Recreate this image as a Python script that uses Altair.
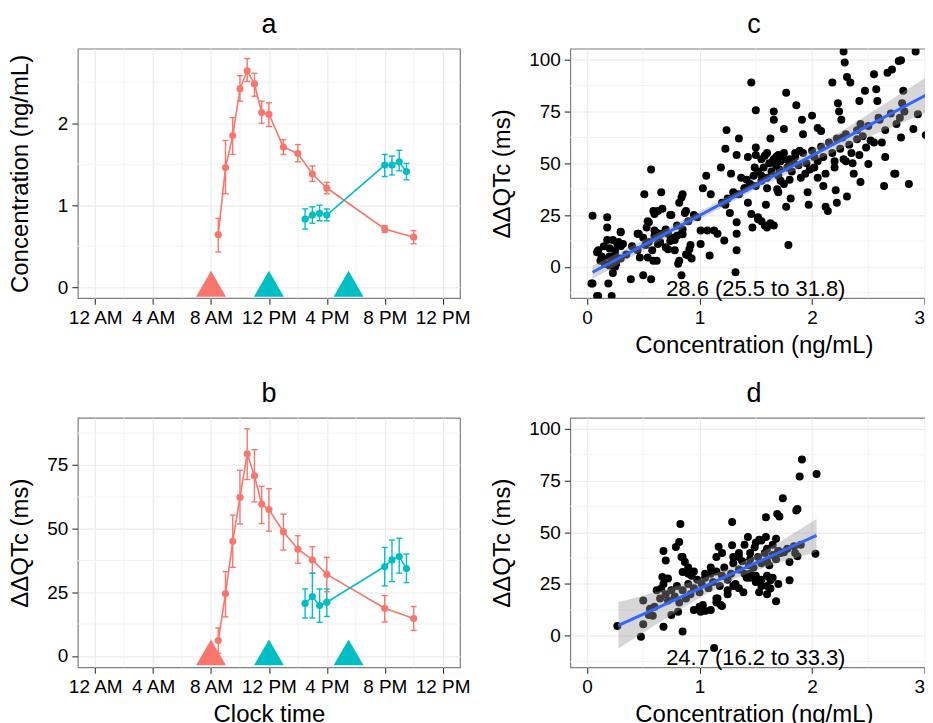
import json
import altair as alt
import pandas as pd

FONT = "Liberation Sans"
SALMON, TEAL = "#F8766D", "#00BFC4"
MINOR = "#F3F3F3"

# ---------------- time-course data (hours after midnight) ----------------
sal_h = [8.5, 9.0, 9.5, 10.0, 10.5, 11.0, 11.5, 12.0, 13.0, 14.0, 15.0, 16.0, 20.0, 22.0]
sal_conc = [0.64, 1.46, 1.85, 2.42, 2.64, 2.48, 2.13, 2.11, 1.71, 1.63, 1.38, 1.21, 0.71, 0.61]
sal_conc_lo = [0.43, 1.14, 1.62, 2.27, 2.51, 2.33, 2.00, 1.96, 1.62, 1.53, 1.29, 1.14, 0.67, 0.53]
sal_conc_hi = [0.84, 1.79, 2.07, 2.58, 2.79, 2.61, 2.27, 2.25, 1.80, 1.74, 1.48, 1.28, 0.75, 0.69]
teal_h = [14.5, 15.0, 15.5, 16.0, 20.0, 20.5, 21.0, 21.5]
teal_conc = [0.83, 0.88, 0.90, 0.88, 1.49, 1.49, 1.53, 1.41]
teal_conc_lo = [0.71, 0.78, 0.81, 0.81, 1.35, 1.37, 1.42, 1.31]
teal_conc_hi = [0.955, 0.98, 1.00, 0.955, 1.62, 1.60, 1.67, 1.51]

sal_qt = [6.0, 24.5, 45.0, 62.3, 79.4, 70.8, 59.6, 57.5, 48.8, 41.9, 37.7, 32.0, 18.7, 14.7]
sal_qt_lo = [1.0, 15.3, 34.8, 51.8, 69.3, 60.5, 52.0, 49.0, 41.6, 36.4, 32.5, 25.2, 13.3, 10.0]
sal_qt_hi = [11.0, 33.1, 55.3, 72.9, 89.2, 81.0, 66.6, 65.7, 55.7, 47.2, 42.9, 38.7, 23.7, 19.4]
teal_qt = [20.6, 23.3, 19.8, 21.1, 35.1, 37.7, 39.0, 34.3]
teal_qt_lo = [14.9, 14.9, 13.2, 15.5, 27.5, 29.2, 32.5, 28.8]
teal_qt_hi = [26.3, 32.5, 26.3, 26.3, 42.6, 45.5, 46.2, 40.0]

dose_h = [8.0, 12.0, 17.5]
dose_grp = ["first", "second", "second"]

time_ticks = [0, 4, 8, 12, 16, 20, 24]
time_labels = ["12 AM", "4 AM", "8 AM", "12 PM", "4 PM", "8 PM", "12 PM"]
time_minor = [2, 6, 10, 14, 18, 22]

# ---------------- concentration / ddQTc scatter data ----------------
c_points = [
    (0.05, 24.7), (0.05, -8), (0.1, -14), (0.1, 8), (0.13, 5), (0.18, 24), (0.18, 19), (0.18, 13),
    (0.19, -8), (0.22, -14), (0.2, 9), (0.23, 13), (0.25, 6), (0.26, 1.5), (0.27, 11), (0.3, 17),
    (0.32, 11), (0.25, 0), (0.16, 1.5), (0.22, 4), (0.23, -3), (0.09, 7), (0.14, 4), (0.2, 0.6),
    (0.3, 10), (0.3, 16.7), (0.04, -8), (0.09, -14),
    (0.39, -6), (0.45, 16), (0.5, -4), (0.51, 35), (0.53, 19), (0.54, 22), (0.57, 47), (0.57, -6),
    (0.59, 3), (0.6, 25.5), (0.61, 16), (0.63, 27), (0.66, 36), (0.67, 28), (0.7, 9.5), (0.72, 16),
    (0.75, 25), (0.78, 13), (0.81, 1.5), (0.84, 33.5), (0.85, 35), (0.84, -4), (0.87, 26), (0.88, 6),
    (0.91, 8.5), (0.93, 4), (0.47, 4.5), (0.54, 4.5), (0.63, 11), (0.72, 8.5), (0.78, 8), (0.84, 16),
    (0.66, 16), (0.6, 17.5), (0.46, 16), (0.55, 21.5), (0.59, 27), (0.74, 25), (0.62, 16.5),
    (0.74, 12.5), (0.8, 15), (0.52, 10.5), (0.58, 8), (0.62, 3), (0.82, 3), (0.9, 5.5), (0.92, 10.6),
    (0.85, 15.7), (0.88, 27), (0.82, 31),
    (0.5, 14), (0.55, 12), (0.6, 15), (0.65, 12), (0.7, 18), (0.75, 14), (0.8, 20), (0.85, 18),
    (0.9, 22), (0.95, 25), (0.45, 8), (0.4, 10), (0.35, 6), (0.3, 4), (0.28, 12), (0.25, 8),
    (0.22, 2), (0.2, 5), (0.15, 10), (0.12, 3),
    (0.98, 24), (1.01, 17.5), (1.01, 11), (1.03, 38), (1.06, 44), (1.07, 17.5), (1.09, 5.5),
    (1.1, 35), (1.13, 17.5), (1.16, 16), (1.19, 48), (1.22, 12.7), (1.23, 30), (1.24, 66),
    (1.23, 57), (1.27, 26), (1.28, 45), (1.31, 35), (1.32, -2.6), (1.33, 21.5), (1.33, 16),
    (1.33, 8), (1.33, 54), (1.35, 62), (1.37, 43), (1.4, 38), (1.43, 53), (1.43, 31), (1.46, 89),
    (1.46, 25.5), (1.47, 19), (1.49, 48), (1.5, 75.6), (1.5, 57.6), (1.52, 23), (1.55, 41.6),
    (1.58, 53.6), (1.59, 30), (1.6, 19), (1.63, 62), (1.66, 75), (1.66, 71), (1.68, 53),
    (1.69, 37.5), (1.71, 47), (1.72, 41.6), (1.75, 66.5), (1.77, 84), (1.77, 29), (1.79, 10.6),
    (1.81, 33), (1.83, 51), (1.86, 78), (1.89, 56), (1.91, 71), (1.92, 64), (1.94, 45), (1.96, 36),
    (1.97, 30),
    (2.0, 73), (2.02, 53), (2.05, 67), (2.05, 43), (2.08, 65.6), (2.1, 39), (2.12, 29), (2.14, 27),
    (2.18, 89), (2.2, 51), (2.21, 37), (2.22, 31), (2.23, 79), (2.24, 75), (2.26, 71), (2.27, 62.4),
    (2.28, 104), (2.29, 98.6), (2.3, 51), (2.31, 91.6), (2.31, 34), (2.34, 89), (2.35, 55),
    (2.37, 45), (2.4, 61.6), (2.42, 80), (2.43, 69), (2.43, 41), (2.47, 85), (2.48, 57.6),
    (2.5, 49.6), (2.52, 61), (2.55, 93), (2.57, 85.7), (2.58, 80), (2.59, 72), (2.62, 60),
    (2.64, 39), (2.65, 53), (2.67, 93.7), (2.71, 95.3), (2.73, 45), (2.74, 45), (2.77, 99.4),
    (2.79, 99.7), (2.79, 62.4), (2.81, 85), (2.82, 75), (2.86, 40), (2.9, 66.5), (2.92, 104),
    (2.94, 73.7), (3.01, 63.6), (3.08, 55),
    (1.2, 31), (1.25, 33), (1.3, 36), (1.35, 35), (1.4, 38), (1.42, 42), (1.45, 40), (1.48, 44),
    (1.5, 39), (1.52, 46), (1.55, 44), (1.57, 48), (1.6, 43), (1.62, 50), (1.64, 46), (1.66, 52),
    (1.68, 49), (1.7, 44), (1.72, 51), (1.75, 55), (1.78, 48), (1.8, 52), (1.82, 46), (1.85, 53),
    (1.88, 49), (1.9, 43), (1.92, 55), (1.95, 50), (1.98, 47), (2.0, 56), (2.02, 48), (2.05, 51),
    (2.08, 58), (2.1, 53), (2.12, 45), (2.15, 60), (2.18, 55), (2.2, 48), (2.22, 62), (2.25, 57),
    (2.28, 52), (2.3, 64), (2.33, 59), (2.36, 50), (2.4, 66), (2.42, 54), (2.45, 63), (2.5, 68),
    (2.55, 60), (2.6, 71), (2.65, 66), (2.7, 74), (2.75, 69), (2.8, 79), (2.78, 72),
    (1.5, 54), (1.55, 52), (1.6, 55), (1.65, 51), (1.7, 54), (1.75, 52), (1.8, 50), (1.85, 55),
    (1.6, 38), (1.7, 36), (1.75, 40), (1.8, 42), (1.52, 24), (1.55, 22), (1.58, 20), (1.63, 21),
    (1.66, 20),
]

d_points = [
    (0.27, 4.7), (0.5, 17), (0.5, 5.5), (0.48, -0.5), (0.585, 9.6), (0.56, 13), (0.68, 4.3),
    (0.68, 41), (0.7, 36.4), (0.66, 22.8), (0.67, 28.4), (0.72, 27.6), (0.75, 10), (0.81, 11.6),
    (0.79, 42.9), (0.82, 45.3), (0.83, 54), (0.85, 2), (0.84, 38), (0.87, 35.6), (0.85, 30.8),
    (0.9, 30), (0.93, 29), (0.95, 12.4), (1.01, 11.6), (1.03, 14.8), (1.1, 12.4), (1.13, -6),
    (1.17, 43), (1.16, 18), (1.19, 14.8), (1.2, 14.3), (1.29, 55), (1.29, 43.7), (1.39, 21),
    (1.43, 47.7), (1.44, 34), (1.49, 42.8), (1.53, 21), (1.53, 46.4), (1.59, 57.3), (1.59, 47.7),
    (1.6, 29), (1.63, 26.8), (1.63, 22.8), (1.68, 16.7), (1.68, 46.9), (1.69, 58.9), (1.71, 57.6),
    (1.74, 66.5), (1.75, 40.4), (1.8, 35.6), (1.8, 26.8), (1.84, 43.2), (1.86, 60.5), (1.87, 38.4),
    (1.87, 61.3), (1.89, 77), (1.91, 85.2), (2.03, 39.6), (2.04, 78.2),
    (0.7, 20), (0.72, 17), (0.75, 22), (0.78, 19), (0.8, 24), (0.82, 16), (0.85, 22), (0.88, 18),
    (0.9, 25), (0.92, 20), (0.95, 23), (0.98, 27), (1.0, 21), (1.02, 25), (1.05, 28), (1.08, 23),
    (1.1, 30), (1.12, 26), (1.15, 31), (1.18, 24), (1.2, 29), (1.22, 33), (1.25, 27), (1.28, 30),
    (1.3, 35), (1.32, 25), (1.35, 32), (1.38, 36), (1.4, 30), (1.42, 28), (1.45, 37), (1.48, 33),
    (1.5, 29), (1.52, 38), (1.55, 35), (1.58, 40), (1.6, 36), (1.62, 34), (1.65, 39), (1.68, 37),
    (1.7, 41), (1.72, 40), (1.78, 42), (1.85, 40), (1.9, 44), (0.55, 10), (0.6, 14), (0.65, 18),
    (0.62, 22), (0.68, 25), (1.15, 18), (1.25, 20), (1.35, 38), (1.45, 28), (1.55, 27), (1.6, 24),
    (0.85, 38), (0.9, 33), (0.95, 31), (1.05, 30), (1.1, 33), (1.15, 38), (1.2, 40), (1.3, 38),
    (1.35, 40), (1.4, 44), (1.45, 40), (1.5, 45), (1.55, 46), (1.6, 42), (1.65, 44), (1.7, 41),
    (1.0, 14), (1.05, 12), (1.15, 16), (1.25, 22), (1.3, 24), (1.35, 23), (1.45, 30), (1.5, 26),
    (1.55, 24), (1.6, 20), (1.65, 28), (1.7, 25),
]

# linear fits with confidence band
c_fit_x = [0.05, 0.5, 1.0, 1.5, 2.0, 2.5, 3.15]
c_fit_mid = [-2.6, 10.4, 24.8, 39.3, 53.7, 68.2, 86.9]
c_fit_half = [3.2, 2.4, 1.8, 1.8, 3.0, 5.5, 9.3]
d_fit_x = [0.28, 0.6, 1.0, 1.33, 1.7, 2.04]
d_fit_mid = [5.0, 12.9, 22.8, 31.0, 40.1, 48.5]
d_fit_half = [11.2, 8.0, 4.5, 3.0, 4.8, 7.9]

c_label = "28.6 (25.5 to 31.8)"
d_label = "24.7 (16.2 to 33.3)"
label_pos = (1.5, -10.6)

conc_ticks = [0, 1, 2, 3]
conc_minor = [0.5, 1.5, 2.5]
qt_ticks = [0, 25, 50, 75, 100]
qt_minor = [-12.5, 12.5, 37.5, 62.5, 87.5]

W_LEFT, W_RIGHT, H = 383, 368, 250
CONC_DOMAIN = [-0.148, 3.114]


def panel_title(t):
    return alt.TitleParams(text=t, fontSize=27, font=FONT, fontWeight="normal", color="black",
                           frame="group", anchor="middle", offset=9)


def course_panel(sv, slo, shi, tv, tlo, thi, title, ydom, yticks, yminor, ytitle, xtitle):
    rows = []
    for h, v, lo, hi in zip(sal_h, sv, slo, shi):
        rows.append(dict(h=h, val=v, lo=lo, hi=hi, grp="first"))
    for h, v, lo, hi in zip(teal_h, tv, tlo, thi):
        rows.append(dict(h=h, val=v, lo=lo, hi=hi, grp="second"))
    df = pd.DataFrame(rows)
    dose = pd.DataFrame({"h": dose_h, "val": [0.0] * len(dose_h), "grp": dose_grp})

    xs = alt.Scale(domain=[-1.2, 25.2], nice=False, zero=False)
    ys = alt.Scale(domain=ydom, nice=False, zero=False)
    xaxis_kw = dict(values=time_ticks,
                    labelExpr=f"{json.dumps(time_labels)}[round(datum.value/4)]",
                    grid=True)
    if xtitle:
        xaxis = alt.Axis(title=xtitle, **xaxis_kw)
    else:
        xaxis = alt.Axis(title=None, **xaxis_kw)
    yaxis = alt.Axis(values=yticks, title=ytitle, minExtent=35, maxExtent=35)

    def X(f):
        return alt.X(f"{f}:Q", scale=xs, axis=xaxis)

    def Y(f):
        return alt.Y(f"{f}:Q", scale=ys, axis=yaxis)

    col = alt.Color("grp:N", scale=alt.Scale(domain=["first", "second"], range=[SALMON, TEAL]),
                    legend=None)

    minor_x = alt.Chart(pd.DataFrame({"h": time_minor})).mark_rule(
        color=MINOR, strokeWidth=1).encode(x=X("h"))
    minor_y = alt.Chart(pd.DataFrame({"val": yminor})).mark_rule(
        color=MINOR, strokeWidth=1).encode(y=Y("val"))
    base = alt.Chart(df)
    line = base.mark_line(strokeWidth=1.6).encode(x=X("h"), y=Y("val"), color=col, detail="grp:N")
    err = base.mark_rule(strokeWidth=1.4).encode(x=X("h"), y=Y("lo"), y2="hi:Q", color=col)
    cap_lo = base.mark_tick(orient="horizontal", size=6, thickness=1.4, opacity=1).encode(
        x=X("h"), y=Y("lo"), color=col)
    cap_hi = base.mark_tick(orient="horizontal", size=6, thickness=1.4, opacity=1).encode(
        x=X("h"), y=Y("hi"), color=col)
    pts = base.mark_circle(size=52, opacity=1).encode(x=X("h"), y=Y("val"), color=col)
    tri = alt.Chart(dose).mark_point(shape="triangle-up", filled=True, size=900, opacity=1,
                                     yOffset=-3.5).encode(x=X("h"), y=Y("val"), color=col)
    return alt.layer(minor_x, minor_y, line, err, cap_lo, cap_hi, pts, tri).properties(
        width=W_LEFT, height=H, title=panel_title(title))


def scatter_panel(points, fx, fmid, fhalf, label, title, ydom):
    pdf = pd.DataFrame(points, columns=["cx", "cy"])
    fdf = pd.DataFrame({"cx": fx, "mid": fmid,
                        "lo": [m - h for m, h in zip(fmid, fhalf)],
                        "hi": [m + h for m, h in zip(fmid, fhalf)]})
    xs = alt.Scale(domain=CONC_DOMAIN, nice=False, zero=False)
    ys = alt.Scale(domain=ydom, nice=False, zero=False)
    xaxis = alt.Axis(values=conc_ticks, title="Concentration (ng/mL)", format="d",
                     labelAlign={"condition": {"test": "datum.value >= 3", "value": "right"},
                                 "value": "center"})
    yaxis = alt.Axis(values=qt_ticks, title="ΔΔQTc (ms)", minExtent=46, maxExtent=46)

    def X(f):
        return alt.X(f"{f}:Q", scale=xs, axis=xaxis)

    def Y(f):
        return alt.Y(f"{f}:Q", scale=ys, axis=yaxis)

    minor_x = alt.Chart(pd.DataFrame({"cx": conc_minor})).mark_rule(
        color=MINOR, strokeWidth=1).encode(x=X("cx"))
    minor_y = alt.Chart(pd.DataFrame({"cy": qt_minor})).mark_rule(
        color=MINOR, strokeWidth=1).encode(y=Y("cy"))
    pts = alt.Chart(pdf).mark_circle(size=64, color="black", opacity=1, clip=True).encode(
        x=X("cx"), y=Y("cy"))
    band = alt.Chart(fdf).mark_area(color="#999999", opacity=0.4, clip=True).encode(
        x=X("cx"), y=Y("lo"), y2="hi:Q")
    fit = alt.Chart(fdf).mark_line(color="#3366FF", strokeWidth=3, clip=True).encode(
        x=X("cx"), y=Y("mid"))
    txt = alt.Chart(pd.DataFrame({"cx": [label_pos[0]], "cy": [label_pos[1]], "t": [label]})).mark_text(
        fontSize=22, font=FONT, color="black", baseline="middle").encode(
        x=X("cx"), y=Y("cy"), text="t:N")
    return alt.layer(minor_x, minor_y, pts, band, fit, txt).properties(
        width=W_RIGHT, height=H, title=panel_title(title))


pa = course_panel(sal_conc, sal_conc_lo, sal_conc_hi, teal_conc, teal_conc_lo, teal_conc_hi,
                  "a", [-0.134, 2.91], [0, 1, 2], [0.5, 1.5, 2.5], "Concentration (ng/mL)", None)
pb = course_panel(sal_qt, sal_qt_lo, sal_qt_hi, teal_qt, teal_qt_lo, teal_qt_hi,
                  "b", [-4.5, 93.5], [0, 25, 50, 75], [12.5, 37.5, 62.5, 87.5], "ΔΔQTc (ms)",
                  "Clock time")
pc = scatter_panel(c_points, c_fit_x, c_fit_mid, c_fit_half, c_label, "c", [-15.1, 105.3])
pd_ = scatter_panel(d_points, d_fit_x, d_fit_mid, d_fit_half, d_label, "d", [-15.3, 105.3])

chart = alt.concat(pa, pc, pb, pd_, columns=2, align="each",
                   spacing={"row": 21, "column": 18.5}).properties(
    padding={"left": 0, "top": 1, "right": -14, "bottom": 0},
    background="white",
).configure(font=FONT).configure_view(
    stroke="#7F7F7F", strokeWidth=1.2
).configure_axis(
    labelFont=FONT, titleFont=FONT, labelFontSize=19, titleFontSize=24,
    labelColor="black", titleColor="black", titleFontWeight="normal",
    tickColor="#333333", tickSize=6, tickWidth=1.1, domain=False,
    gridColor="#EBEBEB", gridWidth=1.1, labelPadding=4,
).configure_axisX(titlePadding=6).configure_axisY(titlePadding=10)

chart.save("out.html", embed_options={"renderer": "svg", "actions": False})
